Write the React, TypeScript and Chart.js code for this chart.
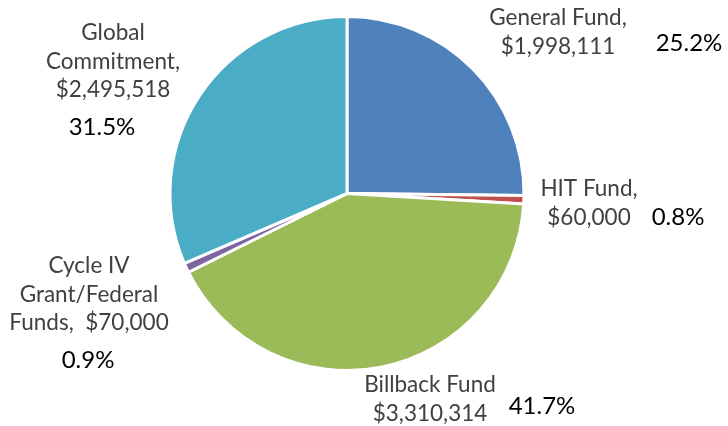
import React, { useEffect, useRef } from "react";
import { Chart, registerables } from "chart.js";

Chart.register(...registerables);

const categories = ["General Fund", "HIT Fund", "Billback Fund", "Cycle IV Grant/Federal Funds", "Global Commitment"];
const amounts = [1998111, 60000, 3310314, 70000, 2495518];
const percentLabels = ["25.2%", "0.8%", "41.7%", "0.9%", "31.5%"];
const labelLines = [
  ["General Fund,", "$1,998,111"],
  ["HIT Fund,", "$60,000"],
  ["Billback Fund", "$3,310,314"],
  ["Cycle IV", "Grant/Federal", "Funds,  $70,000"],
  ["Global", "Commitment,", "$2,495,518"],
];
const colors = ["#4F81BD", "#C0504D", "#9BBB59", "#8064A2", "#4BACC6"];

// label placement offsets from pie centre (px): [name first-line dx, dy, percent dx, dy]
const labelLayout = [
  [211, -175.5, 342, -150.5],
  [242, -4.5, 331, 23.5],
  [83, 191.5, 195, 212.5],
  [-258, 72.5, -259, 166.5],
  [-234, -160.5, -245, -66.5],
];
const LINE_H = 28.5;
const FONT = "Lato, 'Noto Sans', sans-serif";

const labelPlugin = {
  id: "pieLabels",
  afterDraw(chart: any) {
    const ctx = chart.ctx;
    const arc = chart.getDatasetMeta(0).data[0];
    if (!arc) return;
    const cx = arc.x;
    const cy = arc.y;
    ctx.save();
    ctx.textAlign = "center";
    ctx.textBaseline = "middle";
    labelLines.forEach((lines, i) => {
      const [dx, dy, px, py] = labelLayout[i];
      ctx.fillStyle = "#404040";
      ctx.font = `22.5px ${FONT}`;
      lines.forEach((ln, j) => {
        ctx.fillText(ln, cx + dx, cy + dy + j * LINE_H);
      });
      ctx.fillStyle = "#000000";
      ctx.font = `24px ${FONT}`;
      ctx.fillText(percentLabels[i], cx + px, cy + py);
    });
    ctx.restore();
  },
};

export default function App() {
  const ref = useRef<HTMLCanvasElement>(null);
  useEffect(() => {
    document.body.style.margin = "0";
    const chart = new Chart(ref.current!, {
      type: "pie",
      data: {
        labels: categories,
        datasets: [
          {
            data: amounts,
            backgroundColor: colors,
            borderColor: "#ffffff",
            borderWidth: 3,
          },
        ],
      },
      options: {
        responsive: false,
        animation: false,
        layout: { padding: { left: 168.5, right: 202.5, top: 15, bottom: 54 } },
        plugins: {
          legend: { display: false },
          tooltip: { enabled: false },
        },
      },
      plugins: [labelPlugin],
    });
    return () => chart.destroy();
  }, []);
  return (
    <div style={{ position: "absolute", left: 0, top: 0, width: 728, height: 426, background: "#fff" }}>
      <canvas ref={ref} width={728} height={426} />
    </div>
  );
}
